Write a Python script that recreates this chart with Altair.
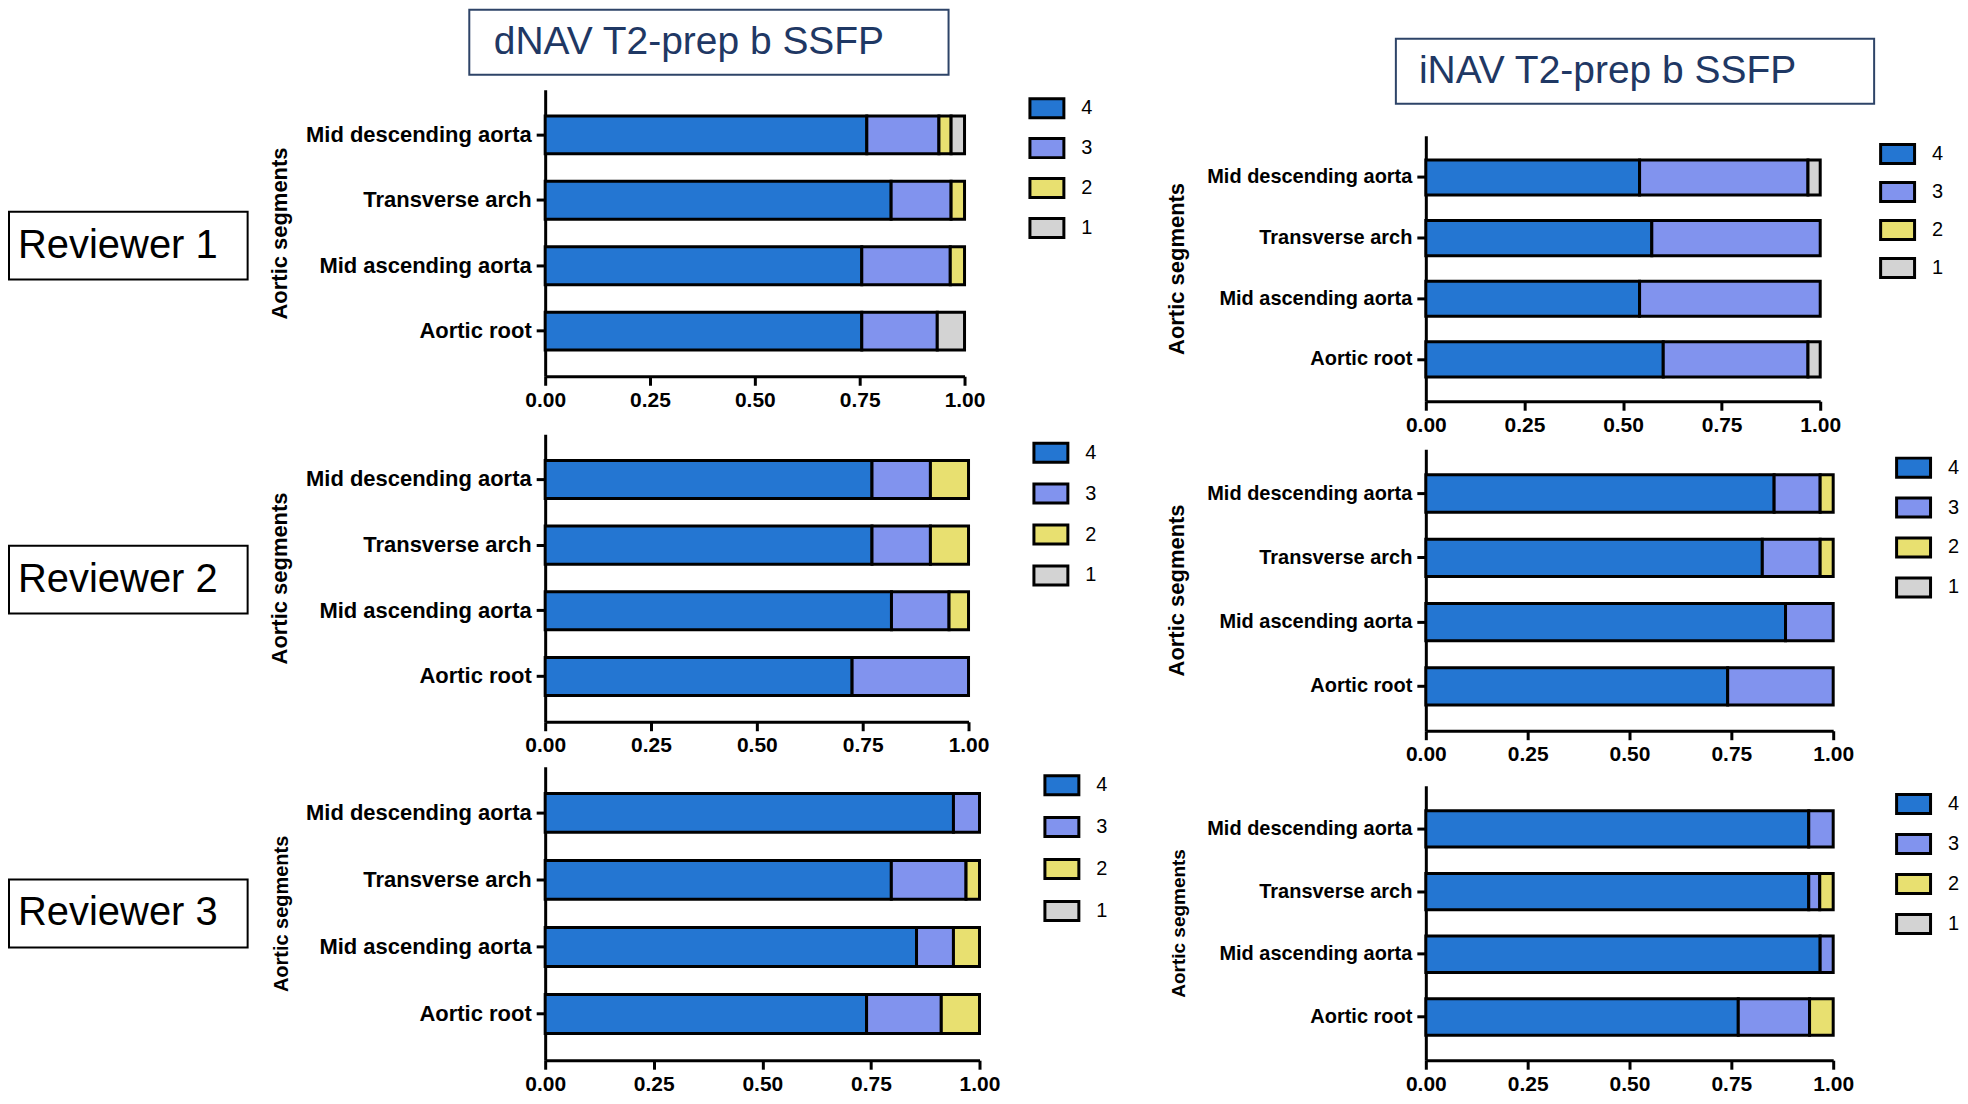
import altair as alt
import pandas as pd

SEGMENTS = ["Mid descending aorta", "Transverse arch", "Mid ascending aorta", "Aortic root"]
SCORES = ["4", "3", "2", "1"]
COLORS = ["#2476D2", "#8193EE", "#E8E070", "#D3D3D3"]
REVIEWERS = ["Reviewer 1", "Reviewer 2", "Reviewer 3"]
TITLES = ["dNAV T2-prep b SSFP", "iNAV T2-prep b SSFP"]
X_TICKS = [0, 0.25, 0.5, 0.75, 1.0]
FONT = "Liberation Sans"

# proportion of each score, per segment (order of SEGMENTS)
# Reviewer 1, dNAV
r1_dnav_4 = [0.767, 0.825, 0.755, 0.755]
r1_dnav_3 = [0.172, 0.143, 0.211, 0.180]
r1_dnav_2 = [0.029, 0.032, 0.034, 0.0]
r1_dnav_1 = [0.032, 0.0, 0.0, 0.065]
# Reviewer 1, iNAV
r1_inav_4 = [0.542, 0.573, 0.542, 0.602]
r1_inav_3 = [0.427, 0.427, 0.458, 0.367]
r1_inav_2 = [0.0, 0.0, 0.0, 0.0]
r1_inav_1 = [0.031, 0.0, 0.0, 0.031]
# Reviewer 2, dNAV
r2_dnav_4 = [0.772, 0.772, 0.818, 0.725]
r2_dnav_3 = [0.138, 0.138, 0.136, 0.275]
r2_dnav_2 = [0.090, 0.090, 0.046, 0.0]
r2_dnav_1 = [0.0, 0.0, 0.0, 0.0]
# Reviewer 2, iNAV
r2_inav_4 = [0.855, 0.826, 0.883, 0.741]
r2_inav_3 = [0.113, 0.142, 0.117, 0.259]
r2_inav_2 = [0.032, 0.032, 0.0, 0.0]
r2_inav_1 = [0.0, 0.0, 0.0, 0.0]
# Reviewer 3, dNAV
r3_dnav_4 = [0.940, 0.797, 0.855, 0.740]
r3_dnav_3 = [0.060, 0.172, 0.085, 0.172]
r3_dnav_2 = [0.0, 0.031, 0.060, 0.088]
r3_dnav_1 = [0.0, 0.0, 0.0, 0.0]
# Reviewer 3, iNAV
r3_inav_4 = [0.940, 0.940, 0.968, 0.767]
r3_inav_3 = [0.060, 0.027, 0.032, 0.175]
r3_inav_2 = [0.0, 0.033, 0.0, 0.058]
r3_inav_1 = [0.0, 0.0, 0.0, 0.0]


def frame(s4, s3, s2, s1):
    rows = []
    for i, seg in enumerate(SEGMENTS):
        for rank, (score, vals) in enumerate(zip(SCORES, [s4, s3, s2, s1])):
            if vals[i] > 0:
                rows.append({"segment": seg, "score": score, "rank": rank, "value": vals[i]})
    return pd.DataFrame(rows)


def panel(df, width, height, label_size, title_size, extent, title_pad, legend_offset, row_pad):
    return alt.Chart(df).mark_bar(stroke="black", strokeWidth=3).encode(
        x=alt.X(
            "value:Q", stack="zero",
            scale=alt.Scale(domain=[0, 1], nice=False, zero=True),
            axis=alt.Axis(
                values=X_TICKS, format=".2f", title=None, grid=False,
                labelFontSize=21, labelFontWeight="bold", labelFont=FONT, labelColor="black",
                labelPadding=4, labelFlush=False, tickSize=9, tickWidth=3, tickColor="black",
                domainColor="black", domainWidth=3,
            ),
        ),
        y=alt.Y(
            "segment:N", sort=SEGMENTS,
            scale=alt.Scale(paddingInner=0.42, paddingOuter=0.4),
            axis=alt.Axis(
                title="Aortic segments", titleFontSize=title_size, titleFont=FONT,
                titleFontWeight="bold", titleColor="black", titlePadding=title_pad,
                labelFontSize=label_size, labelFontWeight="bold", labelFont=FONT,
                labelColor="black", labelPadding=5, labelLimit=400,
                tickSize=9, tickWidth=3, tickColor="black",
                domainColor="black", domainWidth=3,
                minExtent=extent, maxExtent=extent,
            ),
        ),
        color=alt.Color(
            "score:N", sort=SCORES,
            scale=alt.Scale(domain=SCORES, range=COLORS),
            legend=alt.Legend(
                title=None, orient="right", offset=legend_offset, padding=0,
                symbolType="M-1,-0.56H1V0.56H-1Z", symbolSize=1156,
                symbolStrokeColor="black", symbolStrokeWidth=3, symbolOpacity=1,
                labelFontSize=20, labelFont=FONT, labelColor="black",
                labelOffset=16, rowPadding=row_pad,
            ),
        ),
        order=alt.Order("rank:Q", sort="ascending"),
    ).properties(width=width, height=height)


def title_chart(text, width, height, x0, x1, y0, y1, tx):
    df = pd.DataFrame({"title": [text]})
    box = alt.Chart(df).mark_rect(fill="white", stroke="#2E4468", strokeWidth=2).encode(
        x=alt.value(x0), x2=alt.value(x1), y=alt.value(y0), y2=alt.value(y1)
    )
    txt = alt.Chart(df).mark_text(
        fontSize=39, font=FONT, color="#1F3864", align="center", baseline="middle"
    ).encode(x=alt.value(tx), y=alt.value((y0 + y1) / 2), text="title:N")
    return alt.layer(box, txt).properties(width=width, height=height)


def indep(c):
    return c.resolve_scale(color="independent").resolve_legend(color="independent")


def vc(*charts, spacing):
    return indep(alt.vconcat(*charts, spacing=spacing))


def hc(*charts, spacing):
    return indep(alt.hconcat(*charts, spacing=spacing))


rev_df = pd.DataFrame({"reviewer": REVIEWERS})
rev_scale = alt.Scale(paddingInner=0.797, paddingOuter=0.522, align=0.579)
rev_box = alt.Chart(rev_df).mark_rect(fill="white", stroke="black", strokeWidth=2).encode(
    x=alt.value(0), x2=alt.value(239),
    y=alt.Y("reviewer:N", sort=REVIEWERS, axis=None, scale=rev_scale),
)
rev_txt = alt.Chart(rev_df).mark_text(fontSize=40, font=FONT, color="black").encode(
    x=alt.value(109),
    y=alt.Y("reviewer:N", sort=REVIEWERS, axis=None, scale=rev_scale),
    text="reviewer:N",
)
rev_chart = alt.layer(rev_box, rev_txt).properties(width=240, height=1086)

p11 = panel(frame(r1_dnav_4, r1_dnav_3, r1_dnav_2, r1_dnav_1), 420, 287, 22, 22, 240, 14, 64, 5)
p21 = panel(frame(r2_dnav_4, r2_dnav_3, r2_dnav_2, r2_dnav_1), 424, 288, 22, 22, 240, 14, 64, 6)
p31 = panel(frame(r3_dnav_4, r3_dnav_3, r3_dnav_2, r3_dnav_1), 435, 294, 22, 20, 240, 14, 64, 7)
p12 = panel(frame(r1_inav_4, r1_inav_3, r1_inav_2, r1_inav_1), 395, 266, 20, 22, 222, 16, 59, 3)
p22 = panel(frame(r2_inav_4, r2_inav_3, r2_inav_2, r2_inav_1), 408, 282, 20, 22, 222, 16, 62, 5)
p32 = panel(frame(r3_inav_4, r3_inav_3, r3_inav_2, r3_inav_1), 408, 275, 20, 19, 222, 16, 62, 5)

# title boxes, positioned relative to the plot area's left edge of their column
t1 = title_chart(TITLES[0], 400, 65, -76, 404, 0, 65, 144)
t2 = title_chart(TITLES[1], 400, 94, -30, 449, 29, 94, 182)

dnav_col = vc(vc(t1, p11, spacing=14), vc(p21, p31, spacing=11), spacing=24)
inav_col = vc(vc(t2, p12, spacing=31), vc(p22, p32, spacing=21), spacing=14)

chart = hc(rev_chart, hc(dnav_col, inav_col, spacing=57), spacing=20)
chart = chart.properties(padding=0).configure(font=FONT).configure_view(stroke=None)

chart.save("out.html", embed_options={"renderer": "svg", "actions": False})
